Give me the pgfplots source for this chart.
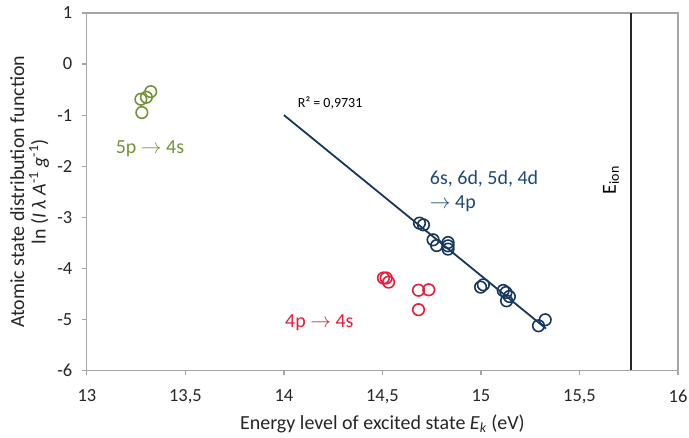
\documentclass[border=0pt]{standalone}
\usepackage{pgfplots}
\pgfplotsset{compat=1.18}
\usepackage{fontspec}
\setmainfont{Carlito}

\definecolor{axgray}{RGB}{166,166,166}
\definecolor{navy}{RGB}{23,55,94}
\definecolor{navytext}{RGB}{31,73,125}
\definecolor{olive}{RGB}{118,146,60}
\definecolor{crimson}{RGB}{228,30,60}

% 5p -> 4s lines
\pgfplotstableread{
x y
13.274 -0.69
13.302 -0.65
13.324 -0.54
13.279 -0.95
}\fivep
% 4p -> 4s lines
\pgfplotstableread{
x y
14.505 -4.19
14.519 -4.19
14.531 -4.27
14.683 -4.43
14.735 -4.42
14.683 -4.81
}\fourp
% 6s, 6d, 5d, 4d -> 4p lines
\pgfplotstableread{
x y
14.688 -3.115
14.708 -3.149
14.757 -3.442
14.775 -3.554
14.833 -3.495
14.833 -3.560
14.833 -3.624
14.998 -4.368
15.012 -4.323
15.113 -4.434
15.127 -4.474
15.144 -4.552
15.130 -4.636
15.292 -5.125
15.326 -5.008
}\upper

\begin{document}
\begin{tikzpicture}
\begin{axis}[
  width=592pt, height=358pt, scale only axis,
  xmin=13, xmax=16, ymin=-6, ymax=1,
  xtick={13,13.5,...,16}, ytick={-6,-5,...,1},
  /pgf/number format/assume math mode=true,
  /pgf/number format/use comma,
  /pgf/number format/1000 sep={},
  ticklabel style={font=\fontsize{18.5}{20}\selectfont, text=black!85},
  xtick pos=bottom, ytick pos=left,
  tick align=outside, major tick length=5pt,
  tick style={axgray, line width=1.2pt},
  axis line style={axgray, line width=1.2pt},
  yticklabel style={xshift=-6pt},
  xticklabel style={yshift=-11pt},
  xlabel={Energy level of excited state \textit{E}\textsubscript{\textit{k}} (eV)},
  ylabel={\begin{tabular}{c}Atomic state distribution function\\[-2pt] ln (\textit{I λ A}\textsuperscript{-1} \textit{g}\textsuperscript{-1})\end{tabular}},
  label style={font=\fontsize{20}{23}\selectfont, text=black!85},
  xlabel style={yshift=-4pt},
  ylabel style={yshift=-2pt},
  clip=false,
]
% ionisation energy
\addplot[black!85, line width=2.2pt] coordinates {(15.76,-6) (15.76,1)};
% linear fit of the upper lines
\addplot[navy, line width=1.8pt] coordinates {(14,-1) (15.33,-5.18)};
\addplot[only marks, mark=o, mark size=5.8pt, olive, line width=1.6pt] table {\fivep};
\addplot[only marks, mark=o, mark size=5.8pt, crimson, line width=1.6pt] table {\fourp};
\addplot[only marks, mark=o, mark size=5.8pt, navy, line width=1.6pt] table {\upper};

\node[olive, font=\fontsize{20}{23}\selectfont] at (axis cs:13.32,-1.66) {5p $\rightarrow$ 4s};
\node[crimson, font=\fontsize{20}{23}\selectfont] at (axis cs:14.18,-5.07) {4p $\rightarrow$ 4s};
\node[navytext, font=\fontsize{20}{24}\selectfont, anchor=north west, align=left, inner sep=0pt]
  at (axis cs:14.74,-2.08) {6s, 6d, 5d, 4d\\$\rightarrow$ 4p};
\node[black, font=\fontsize{14}{16}\selectfont, anchor=west, inner sep=0pt] at (axis cs:14.07,-0.76) {R² = 0,9731};
\node[black, font=\fontsize{20}{23}\selectfont, rotate=90] at (axis cs:15.66,-2.27) {E\textsubscript{ion}};
\end{axis}
% page margins around the plot area
\pgfresetboundingbox
\path (current axis.south west) ++(-87pt,-67pt) rectangle ([shift={(11pt,13pt)}]current axis.north east);
\end{tikzpicture}
\end{document}
